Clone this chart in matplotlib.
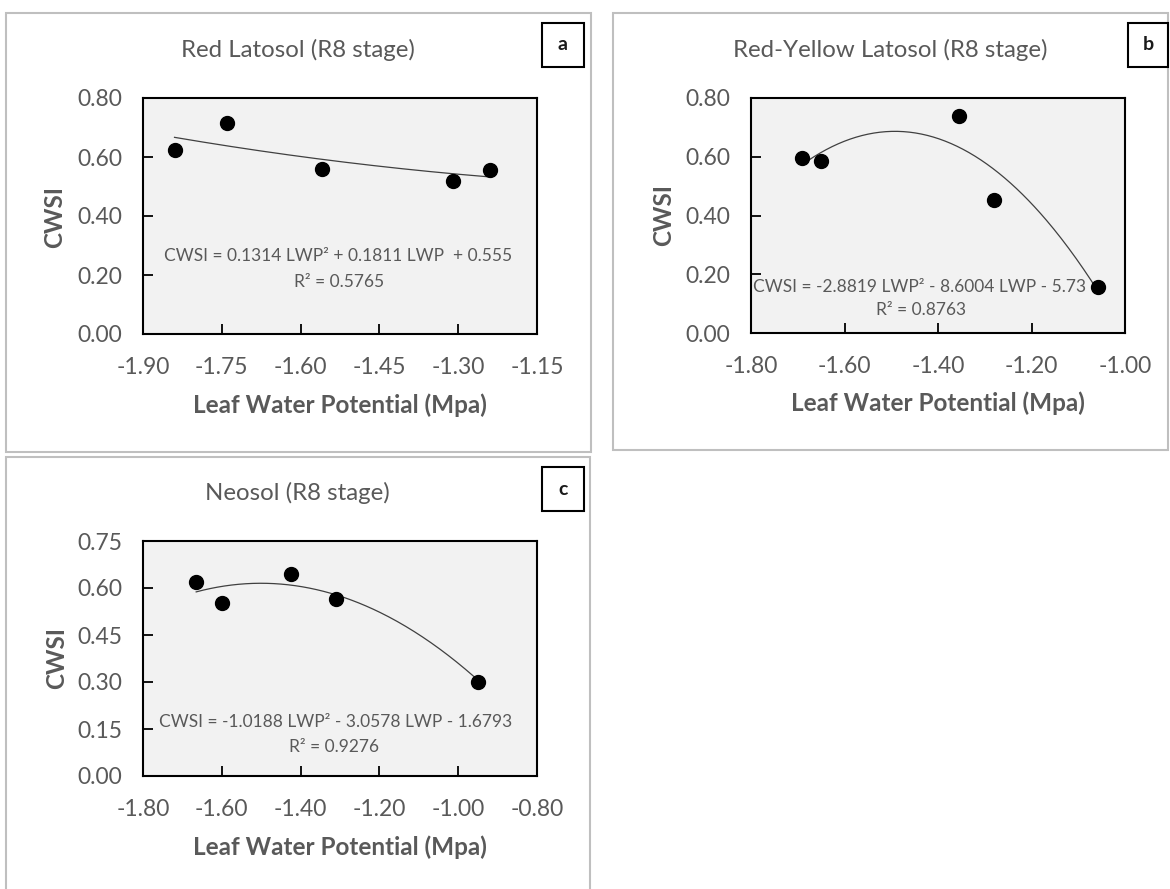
import numpy as np
import matplotlib
matplotlib.use("Agg")
import matplotlib.pyplot as plt
from matplotlib.patches import Rectangle
from matplotlib.ticker import FormatStrFormatter

plt.rcParams["font.family"] = ["Lato", "DejaVu Sans"]
plt.rcParams["axes.unicode_minus"] = False

# leaf water potential (MPa) and CWSI at R8 stage, per soil
lwp_red = [-1.84, -1.74, -1.56, -1.31, -1.24]
cwsi_red = [0.625, 0.715, 0.558, 0.518, 0.555]
lwp_ry = [-1.69, -1.65, -1.355, -1.28, -1.057]
cwsi_ry = [0.597, 0.585, 0.738, 0.453, 0.157]
lwp_neo = [-1.665, -1.60, -1.425, -1.31, -0.95]
cwsi_neo = [0.618, 0.551, 0.645, 0.564, 0.300]

# quadratic fits: a*LWP^2 + b*LWP + c
fit_red = [0.1314, 0.1811, 0.555]
fit_ry = [-2.8819, -8.6004, -5.73]
fit_neo = [-1.0188, -3.0578, -1.6793]

eq_red = "CWSI = 0.1314 LWP\u00b2 + 0.1811 LWP  + 0.555"
eq_ry = "CWSI = -2.8819 LWP\u00b2 - 8.6004 LWP - 5.73"
eq_neo = "CWSI = -1.0188 LWP\u00b2 - 3.0578 LWP - 1.6793"
r2_red = "R\u00b2 = 0.5765"
r2_ry = "R\u00b2 = 0.8763"
r2_neo = "R\u00b2 = 0.9276"

titles = ["Red Latosol (R8 stage)", "Red-Yellow Latosol (R8 stage)", "Neosol (R8 stage)"]
letters = ["a", "b", "c"]

W, H = 1170, 889
fig = plt.figure(figsize=(W / 100, H / 100), dpi=100)
fig.patch.set_facecolor("white")

TXT = "#595959"


def fx(px):
    return px / W


def fy(py):
    return 1 - py / H


def frame(x0, y0, x1, y1, color, lw):
    fig.add_artist(Rectangle((fx(x0), fy(y1)), fx(x1 - x0), (y1 - y0) / H,
                             transform=fig.transFigure, fill=False,
                             edgecolor=color, linewidth=lw))


def panel(box, xs, ys, coef, xlim, xstep, ylim, ystep, eq, r2, eq_pos, r2_pos):
    left, top, right, bottom = box
    ax = fig.add_axes([fx(left), fy(bottom), fx(right - left), (bottom - top) / H])
    ax.set_facecolor("#f2f2f2")
    for s in ax.spines.values():
        s.set_linewidth(1.5)
        s.set_color("black")
    ax.set_xlim(*xlim)
    ax.set_ylim(*ylim)
    ax.set_xticks(np.arange(xlim[0], xlim[1] + 1e-9, xstep))
    ax.set_yticks(np.arange(ylim[0], ylim[1] + 1e-9, ystep))
    ax.xaxis.set_major_formatter(FormatStrFormatter("%.2f"))
    ax.yaxis.set_major_formatter(FormatStrFormatter("%.2f"))
    ax.tick_params(axis="both", direction="in", length=7, width=1.3,
                   labelsize=16.5, labelcolor=TXT, color="black")
    ax.tick_params(axis="x", pad=16.5)
    ax.tick_params(axis="y", pad=15)

    xx = np.linspace(min(xs), max(xs), 200)
    ax.plot(xx, np.polyval(coef, xx), color="#404040", lw=0.9, zorder=2)
    ax.plot(xs, ys, "o", color="black", markersize=10, zorder=3, clip_on=False)

    fig.text(fx(eq_pos[0]), fy(eq_pos[1]), eq, ha="center", va="center",
             fontsize=12.5, color=TXT)
    fig.text(fx(r2_pos[0]), fy(r2_pos[1]), r2, ha="center", va="center",
             fontsize=12.5, color=TXT)
    return ax


# panel outlines
frame(6, 13, 591, 452, "#bfbfbf", 1.5)
frame(613, 13, 1168, 450, "#bfbfbf", 1.5)
frame(6, 457, 590, 895, "#bfbfbf", 1.5)

panel((143, 98, 537, 334), lwp_red, cwsi_red, fit_red, (-1.90, -1.15), 0.15,
      (0, 0.8), 0.2, eq_red, r2_red, (338, 256), (339, 282))
panel((751, 98, 1125, 333), lwp_ry, cwsi_ry, fit_ry, (-1.80, -1.00), 0.2,
      (0, 0.8), 0.2, eq_ry, r2_ry, (920, 287), (921, 310))
panel((143, 541, 537, 776), lwp_neo, cwsi_neo, fit_neo, (-1.80, -0.80), 0.2,
      (0, 0.75), 0.15, eq_neo, r2_neo, (336, 722), (334, 747))

# titles, axis labels and panel letters
title_pos = [(298, 50), (890, 50), (297, 493)]
ylab_pos = [(55, 217), (664, 215), (57, 658)]
xlab_pos = [(340, 405), (938, 403), (340, 847)]
letter_box = [(542, 23, 584, 67), (1128, 23, 1168, 67), (542, 467, 584, 511)]

for i in range(3):
    fig.text(fx(title_pos[i][0]), fy(title_pos[i][1]), titles[i], ha="center",
             va="center", fontsize=17.3, color=TXT)
    fig.text(fx(ylab_pos[i][0]), fy(ylab_pos[i][1]), "CWSI", ha="center",
             va="center", rotation=90, fontsize=17.5, fontweight="bold", color=TXT)
    fig.text(fx(xlab_pos[i][0]), fy(xlab_pos[i][1]), "Leaf Water Potential (Mpa)",
             ha="center", va="center", fontsize=17.5, fontweight="bold", color=TXT)
    x0, y0, x1, y1 = letter_box[i]
    frame(x0, y0, x1, y1, "black", 1.5)
    fig.text(fx((x0 + x1) / 2), fy((y0 + y1) / 2), letters[i], ha="center",
             va="center", fontsize=14, fontweight="bold", color="#1a1a1a")

fig.savefig("out.png", dpi=100)
